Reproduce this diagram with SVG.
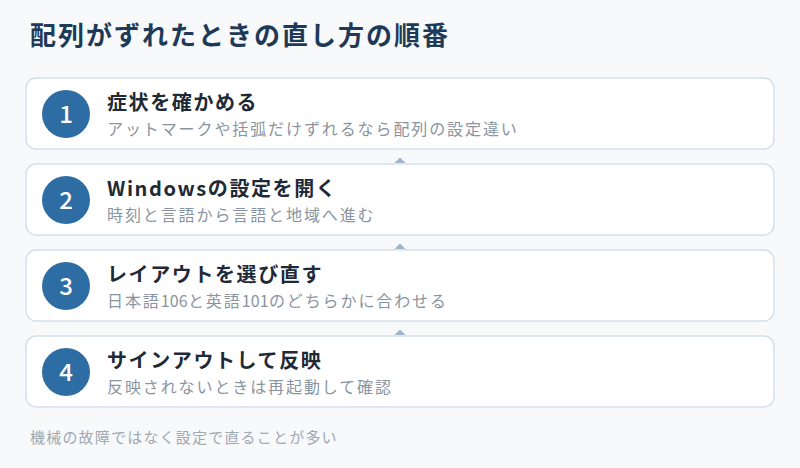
<svg xmlns="http://www.w3.org/2000/svg" width="800" height="468" viewBox="0 0 800 468">
<style>
text{font-family:"Noto Sans CJK JP","Noto Sans",sans-serif}
.card{fill:#ffffff;stroke:#d6dfe9;stroke-width:1.5}
.num{fill:#2e6da4}
.numt{fill:#ffffff;font-size:24px;font-weight:500;text-anchor:middle}
.t{fill:#1f2a37;font-size:20px;font-weight:700;letter-spacing:1.6px}
.s{fill:#8a94a0;font-size:16px;letter-spacing:1.9px}
.d{letter-spacing:0.2px}
.arr{fill:#9fb4c9}
</style>
<rect width="800" height="468" fill="#f7f9fb"/>
<text x="30" y="45" font-size="26" font-weight="700" fill="#1e3a56" letter-spacing="2">配列がずれたときの直し方の順番</text>
<g id="connectors">
<polygon class="arr" points="400,157.5 405.5,163 394.5,163"/>
<polygon class="arr" points="400,243.5 405.5,249 394.5,249"/>
<polygon class="arr" points="400,329.5 405.5,335 394.5,335"/>
</g>
<g id="step1">
<rect class="card" x="26" y="78" width="748" height="71" rx="10"/>
<circle class="num" cx="66" cy="114" r="24"/>
<text class="numt" x="66" y="122.5">1</text>
<text class="t" x="107" y="110">症状を確かめる</text>
<text class="s" x="107" y="135">アットマークや括弧だけずれるなら配列の設定違い</text>
</g>
<g id="step2">
<rect class="card" x="26" y="164" width="748" height="71" rx="10"/>
<circle class="num" cx="66" cy="200" r="24"/>
<text class="numt" x="66" y="208.5">2</text>
<text class="t" x="107" y="196">Windowsの設定を開く</text>
<text class="s" x="107" y="221">時刻と言語から言語と地域へ進む</text>
</g>
<g id="step3">
<rect class="card" x="26" y="250" width="748" height="71" rx="10"/>
<circle class="num" cx="66" cy="286" r="24"/>
<text class="numt" x="66" y="294.5">3</text>
<text class="t" x="107" y="282">レイアウトを選び直す</text>
<text class="s" x="107" y="307">日本語<tspan class="d">106</tspan>と英語<tspan class="d">101</tspan>のどちらかに合わせる</text>
</g>
<g id="step4">
<rect class="card" x="26" y="336" width="748" height="71" rx="10"/>
<circle class="num" cx="66" cy="372" r="24"/>
<text class="numt" x="66" y="380.5">4</text>
<text class="t" x="107" y="368">サインアウトして反映</text>
<text class="s" x="107" y="393">反映されないときは再起動して確認</text>
</g>
<text x="30" y="443" font-size="15" fill="#a0a8b2" letter-spacing="1.2">機械の故障ではなく設定で直ることが多い</text>
</svg>
